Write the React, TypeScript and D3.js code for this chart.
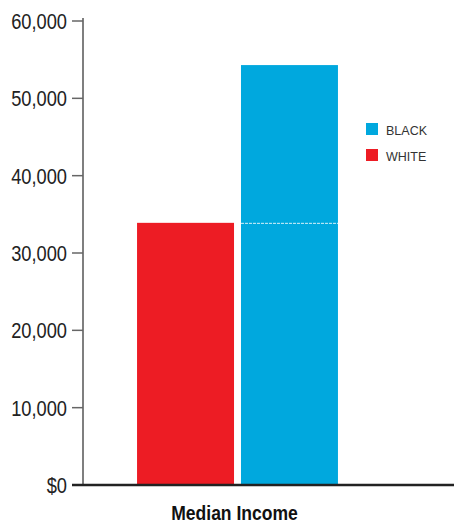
import React from "react";
import * as d3 from "d3";

const categories = ["Median Income"];
const seriesNames = ["WHITE", "BLACK"];
const whiteValues = [33900];
const blackValues = [54300];
const yTicks = [0, 10000, 20000, 30000, 40000, 50000, 60000];
const legendOrder = ["BLACK", "WHITE"];
const colors: Record<string, string> = { WHITE: "#ED1C24", BLACK: "#00A8DE" };

const W = 454;
const H = 526;

export default function App() {
  const y = d3.scaleLinear().domain([0, 60000]).range([485, 21]);
  const x0 = d3.scaleBand().domain(categories).range([83, 392]).paddingInner(0).paddingOuter(0.269);
  const x1 = d3.scaleBand().domain(seriesNames).range([0, x0.bandwidth()]).paddingInner(0.067).paddingOuter(0);
  const data = categories.map((c, i) => ({ cat: c, WHITE: whiteValues[i], BLACK: blackValues[i] }));
  const fmt = (v: number) => (v === 0 ? "$0" : d3.format(",")(v));
  const sans = "'Liberation Sans', Arial, sans-serif";

  return (
    <svg width={W} height={H} style={{ position: "absolute", left: 0, top: 0, background: "#fff" }}>
      {/* y axis */}
      <line x1={83} x2={83} y1={18} y2={y(0)} stroke="#555" strokeWidth={1.5} />
      {yTicks.map((t) => (
        <g key={t}>
          {t !== 0 && <line x1={72} x2={83} y1={y(t)} y2={y(t)} stroke="#666" strokeWidth={1.5} />}
          <text
            transform={`translate(67,${y(t)}) scale(0.83,1)`}
            dy="0.36em"
            textAnchor="end"
            fontFamily={sans}
            fontSize={22}
            fill="#222"
          >
            {fmt(t)}
          </text>
        </g>
      ))}
      {/* bars */}
      {data.map((d) => (
        <g key={d.cat} transform={`translate(${x0(d.cat)},0)`}>
          {seriesNames.map((s) => (
            <rect
              key={s}
              x={x1(s)}
              y={y((d as any)[s])}
              width={x1.bandwidth()}
              height={y(0) - y((d as any)[s])}
              fill={colors[s]}
            />
          ))}
          <line
            x1={x1("BLACK")}
            x2={(x1("BLACK") as number) + x1.bandwidth()}
            y1={y(d.WHITE) + 0.5}
            y2={y(d.WHITE) + 0.5}
            stroke="#fff"
            strokeOpacity={0.85}
            strokeWidth={1}
            strokeDasharray="3,1"
          />
          <text
            transform={`translate(${x0.bandwidth() / 2 - 3},520) scale(0.835,1)`}
            textAnchor="middle"
            fontFamily={sans}
            fontWeight="bold"
            fontSize={21}
            fill="#111"
          >
            {d.cat}
          </text>
        </g>
      ))}
      {/* baseline */}
      <line x1={72} x2={454} y1={y(0)} y2={y(0)} stroke="#222" strokeWidth={2.5} />
      {/* legend */}
      {legendOrder.map((s, i) => (
        <g key={s} transform={`translate(366,${123 + i * 26})`}>
          <rect x={0} y={0} width={12} height={12} fill={colors[s]} />
          <text x={20} y={11.5} fontFamily={sans} fontSize={12.5} fill="#333">
            {s}
          </text>
        </g>
      ))}
    </svg>
  );
}
